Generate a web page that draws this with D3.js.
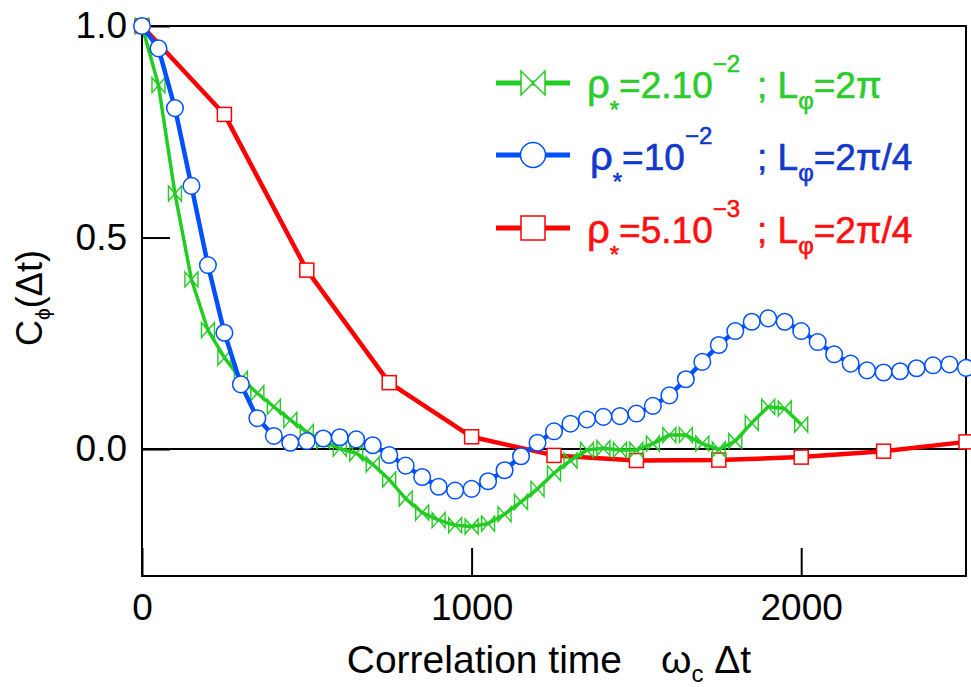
<!DOCTYPE html>
<html>
<head>
<meta charset="utf-8">
<script src="https://cdn.jsdelivr.net/npm/d3@7/dist/d3.min.js"></script>
<style>
  body { margin: 0; background: #fff; }
  svg { display: block; font-family: "Liberation Sans", Arial, sans-serif; }
</style>
</head>
<body>
<script>
// correlation time (omega_c * dt), sampled every 50
const timesBlue = [0, 50, 100, 150, 200, 250, 300, 350, 400, 450, 500, 550, 600, 650, 700, 750,
  800, 850, 900, 950, 1000, 1050, 1100, 1150, 1200, 1250, 1300, 1350, 1400, 1450, 1500, 1550,
  1600, 1650, 1700, 1750, 1800, 1850, 1900, 1950, 2000, 2050, 2100, 2150, 2200, 2250, 2300,
  2350, 2400, 2450, 2500];
const valuesBlue = [1.0, 0.947, 0.806, 0.622, 0.435, 0.275, 0.153, 0.073, 0.031, 0.015, 0.019,
  0.025, 0.028, 0.023, 0.009, -0.014, -0.039, -0.066, -0.089, -0.098, -0.094, -0.076, -0.050,
  -0.017, 0.015, 0.042, 0.060, 0.070, 0.076, 0.078, 0.084, 0.102, 0.127, 0.165, 0.206, 0.246,
  0.279, 0.301, 0.309, 0.301, 0.279, 0.253, 0.224, 0.202, 0.186, 0.181, 0.184, 0.191, 0.198,
  0.200, 0.192];

const timesGreen = [0, 50, 100, 150, 200, 250, 300, 350, 400, 450, 500, 550, 600, 650, 700, 750,
  800, 850, 900, 950, 1000, 1050, 1100, 1150, 1200, 1250, 1300, 1350, 1400, 1450, 1500, 1550,
  1600, 1650, 1700, 1750, 1800, 1850, 1900, 1950, 2000];
const valuesGreen = [1.0, 0.860, 0.604, 0.401, 0.281, 0.216, 0.166, 0.132, 0.100, 0.069, 0.040,
  0.019, 0.001, -0.010, -0.036, -0.072, -0.117, -0.150, -0.168, -0.180, -0.183, -0.176, -0.154,
  -0.125, -0.094, -0.057, -0.027, -0.002, 0.002, -0.002, -0.002, 0.013, 0.033, 0.033, 0.013,
  -0.001, 0.019, 0.062, 0.100, 0.096, 0.058];

const timesRed = [0, 250, 500, 750, 1000, 1250, 1500, 1750, 2000, 2250, 2500];
const valuesRed = [1.0, 0.791, 0.423, 0.157, 0.029, -0.015, -0.027, -0.026, -0.019, -0.005, 0.017];

const xTicks = [0, 1000, 2000];
const yTicks = [0, 0.5, 1.0];

const margin = {top: 26, right: 5, bottom: 111, left: 142};
const width = 971 - margin.left - margin.right;
const height = 687 - margin.top - margin.bottom;

const green = "#22cc22", blue = "#0050ff", red = "#ff0000";

const svg = d3.select("body").append("svg")
    .attr("width", 971)
    .attr("height", 687);

const g = svg.append("g")
    .attr("transform", "translate(" + margin.left + "," + margin.top + ")");

const x = d3.scaleLinear().domain([0, 2500]).range([0, width]);
const y = d3.scaleLinear().domain([-0.3, 1.0]).range([height, 0]);

// axes with inward ticks
const xAxis = d3.axisBottom(x).tickValues(xTicks).tickFormat(d3.format("d"))
    .tickSizeInner(-28).tickSizeOuter(0).tickPadding(18);
const yAxis = d3.axisLeft(y).tickValues(yTicks).tickFormat(d3.format(".1f"))
    .tickSizeInner(-28).tickSizeOuter(0).tickPadding(15);

const gx = g.append("g").attr("transform", "translate(0," + height + ")").call(xAxis);
const gy = g.append("g").call(yAxis);
[gx, gy].forEach(a => {
  a.select(".domain").remove();
  a.selectAll(".tick line").attr("stroke", "#000").attr("stroke-width", 2);
  a.selectAll(".tick text").attr("fill", "#000").style("font-size", "37px")
    .style("font-family", "'Liberation Sans', Arial, sans-serif");
});

// zero line
g.append("line")
    .attr("x1", 0).attr("x2", width)
    .attr("y1", y(0)).attr("y2", y(0))
    .attr("stroke", "#000").attr("stroke-width", 2);

// frame
g.append("rect")
    .attr("width", width).attr("height", height)
    .attr("fill", "none").attr("stroke", "#000").attr("stroke-width", 2);

const line = d3.line().x(d => x(d[0])).y(d => y(d[1]));
const bowtie = (w, h) => "M" + (-w) + "," + (-h) + "L" + w + "," + h + "L" + w + "," + (-h) + "L" + (-w) + "," + h + "Z";

const plot = g.append("g");

// red series
const redData = d3.zip(timesRed, valuesRed);
plot.append("path").datum(redData)
    .attr("d", line).attr("fill", "none").attr("stroke", red).attr("stroke-width", 4.5)
    .attr("stroke-linejoin", "round");
plot.selectAll(".sq").data(redData).enter().append("rect")
    .attr("x", d => x(d[0]) - 7).attr("y", d => y(d[1]) - 7)
    .attr("width", 14).attr("height", 14)
    .attr("fill", "#fff").attr("stroke", red).attr("stroke-width", 1.5);

// green series
const greenData = d3.zip(timesGreen, valuesGreen);
plot.append("path").datum(greenData)
    .attr("d", line).attr("fill", "none").attr("stroke", green).attr("stroke-width", 3.5)
    .attr("stroke-linejoin", "round");
plot.selectAll(".bt").data(greenData).enter().append("path")
    .attr("transform", d => "translate(" + x(d[0]) + "," + y(d[1]) + ")")
    .attr("d", bowtie(6.5, 7.5))
    .attr("fill", "none").attr("stroke", green).attr("stroke-width", 1.4);

// blue series
const blueData = d3.zip(timesBlue, valuesBlue);
plot.append("path").datum(blueData)
    .attr("d", line).attr("fill", "none").attr("stroke", blue).attr("stroke-width", 4.5)
    .attr("stroke-linejoin", "round");
plot.selectAll(".ci").data(blueData).enter().append("circle")
    .attr("cx", d => x(d[0])).attr("cy", d => y(d[1])).attr("r", 8.3)
    .attr("fill", "#fff").attr("stroke", blue).attr("stroke-width", 1.5);

// legend
const legend = [
  {color: green, text: "#2ccc2c", lead: "=2.10", exp: "\u22122", tail: "=2\u03c0", marker: "bowtie", y: 83, tx: 587},
  {color: blue, text: "#1238cc", lead: "=10", exp: "\u22122", tail: "=2\u03c0/4", marker: "circle", y: 155, tx: 590},
  {color: red, text: "#ff1010", lead: "=5.10", exp: "\u22123", tail: "=2\u03c0/4", marker: "square", y: 228, tx: 587}
];
const lg = svg.append("g");
legend.forEach(l => {
  lg.append("line").attr("x1", 496).attr("x2", 570).attr("y1", l.y).attr("y2", l.y)
    .attr("stroke", l.color).attr("stroke-width", 5);
  if (l.marker === "bowtie") {
    lg.append("path").attr("transform", "translate(533," + l.y + ")").attr("d", bowtie(12, 12))
      .attr("fill", "#fff").attr("stroke", l.color).attr("stroke-width", 1.5);
  } else if (l.marker === "circle") {
    lg.append("circle").attr("cx", 533).attr("cy", l.y).attr("r", 12.5)
      .attr("fill", "#fff").attr("stroke", l.color).attr("stroke-width", 1.5);
  } else {
    lg.append("rect").attr("x", 521).attr("y", l.y - 12).attr("width", 24).attr("height", 24)
      .attr("fill", "#fff").attr("stroke", l.color).attr("stroke-width", 1.5);
  }
  const t = lg.append("text").attr("x", l.tx).attr("y", l.y + 15)
    .attr("fill", l.text).attr("stroke", l.text).attr("stroke-width", 0.6)
    .style("font-size", "37px");
  t.append("tspan").style("font-size", "40px").text("\u03c1");
  t.append("tspan").attr("dy", 20).style("font-size", "24px").text("*");
  t.append("tspan").attr("dy", -20).text(l.lead);
  t.append("tspan").attr("dy", -26).style("font-size", "24px").text(l.exp);
  const t2 = lg.append("text").attr("x", 757).attr("y", l.y + 15)
    .attr("fill", l.text).attr("stroke", l.text).attr("stroke-width", 0.6)
    .style("font-size", "37px");
  t2.append("tspan").text("; L");
  t2.append("tspan").attr("dy", 11).style("font-size", "24px").text("\u03c6");
  t2.append("tspan").attr("dy", -11).text(l.tail);
});

// y axis title
const yt = svg.append("text")
    .attr("transform", "translate(42,298) rotate(-90)")
    .attr("text-anchor", "middle").attr("fill", "#000").style("font-size", "36px");
yt.append("tspan").text("C");
yt.append("tspan").attr("dy", 8).style("font-size", "21px").text("\u03d5");
yt.append("tspan").attr("dy", -8).text("(\u0394t)");

// x axis title
const xt = svg.append("text")
    .attr("x", 549).attr("y", 673)
    .attr("text-anchor", "middle").attr("fill", "#000").style("font-size", "39px");
xt.append("tspan").text("Correlation time\u2003\u03c9");
xt.append("tspan").attr("dy", 9).style("font-size", "24px").text("c");
xt.append("tspan").attr("dy", -9).text(" \u0394t");
</script>
</body>
</html>
